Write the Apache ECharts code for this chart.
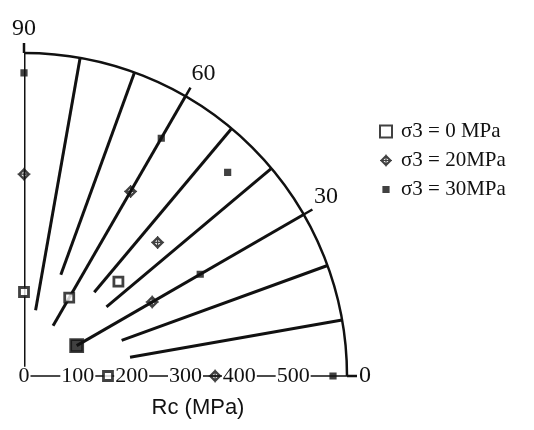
<!DOCTYPE html>
<html><head><meta charset="utf-8">
<script src="https://cdn.jsdelivr.net/npm/echarts@6/dist/echarts.min.js"></script>
<style>html,body{margin:0;padding:0;background:#fff}#c{width:534px;height:430px}</style>
</head><body><div id="c"></div>
<script>
// ---- data ----
const angles = [0, 30, 45, 60, 90];
const rc0 = [156, 113, 248, 168, 156];
const rc20 = [355, 275, 351, 396, 375];
const rc30 = [574, 378, 535, 510, 563];
const guideAngles = [10, 20, 30, 40, 50, 60, 70, 80];
const guideStart = [200, 193, 113, 200, 203, 108, 200, 124];
const guideEnd = 600;
const seriesNames = ['σ3 = 0 MPa', 'σ3 = 20MPa', 'σ3 = 30MPa'];
const radiusTicks = ['0', '100', '200', '300', '400', '500'];
const angleTicks = ['0', '30', '60', '90'];

// ---- styles ----
const ink = '#111';
const serif = 'Liberation Serif';
const hatchDiamond = 'path://M10 0 L20 10 L10 20 L0 10 Z M10 5 L5 10 L10 15 L15 10 Z M10 7.5 L12.5 10 L10 12.5 L7.5 10 Z M9 0 H11 V20 H9 Z M0 9 H20 V11 H0 Z';
const smallSquare = 'path://M0 0 L0.01 0 L0 0.01 Z M20 20 L19.99 20 L20 19.99 Z M4 4 H16 V16 H4 Z';

const chart = echarts.init(document.getElementById('c'), null, {renderer: 'canvas'});

const guideSeries = guideAngles.map((a, i) => ({
  type: 'line', coordinateSystem: 'polar', silent: true, symbol: 'none',
  lineStyle: {color: ink, width: 3}, z: 1,
  data: [[guideStart[i], a], [guideEnd, a]]
}));

chart.setOption({
  animation: false,
  backgroundColor: '#fff',
  polar: {center: [24, 376], radius: 323},
  angleAxis: {
    type: 'value', min: 0, max: 90, interval: 30,
    startAngle: 0, endAngle: 90, clockwise: false,
    axisLine: {lineStyle: {color: ink, width: 2.5}},
    axisTick: {show: true, length: 10, lineStyle: {color: ink, width: 2.5}},
    axisLabel: {fontFamily: serif, fontSize: 24, color: ink, margin: 12,
      formatter: v => angleTicks[Math.round(v / 30)] ?? ''},
    splitLine: {show: false}
  },
  radiusAxis: {
    type: 'value', min: 0, max: 600, interval: 100,
    axisLine: {lineStyle: {color: ink, width: 1.5}},
    axisTick: {show: false},
    splitLine: {show: false},
    axisLabel: {fontFamily: serif, fontSize: 22, color: ink, margin: 0,
      verticalAlign: 'middle', backgroundColor: '#fff', padding: [0, 1],
      formatter: v => radiusTicks[Math.round(v / 100)] ?? ''}
  },
  legend: {
    data: seriesNames, orient: 'vertical', left: 374, top: 116, itemGap: 8,
    itemWidth: 12, itemHeight: 12,
    textStyle: {fontFamily: serif, fontSize: 21, color: ink, padding: [0, 0, 0, 4]}
  },
  graphic: [{type: 'text', x: 198, y: 408,
    style: {text: 'Rc (MPa)', font: '22px "Liberation Sans"', fill: ink, align: 'center', verticalAlign: 'middle'}}],
  series: [
    {type: 'line', coordinateSystem: 'polar', silent: true, symbol: 'none',
      lineStyle: {color: ink, width: 3}, z: 1, data: [[17, 90], [600, 90]]},
    ...guideSeries,
    {name: seriesNames[0], type: 'scatter', coordinateSystem: 'polar', symbol: 'rect', symbolSize: 9,
      itemStyle: {color: '#fff', borderColor: ink, borderWidth: 2.8}, z: 5,
      data: rc0.map((r, i) => i === 1 ? {value: [r, angles[i]], symbolSize: 12, itemStyle: {color: ink}} : [r, angles[i]])},
    {name: seriesNames[1], type: 'scatter', coordinateSystem: 'polar', symbol: hatchDiamond, symbolSize: 13,
      itemStyle: {color: ink}, z: 5,
      data: rc20.map((r, i) => [r, angles[i]])},
    {name: seriesNames[2], type: 'scatter', coordinateSystem: 'polar', symbol: smallSquare, symbolSize: 12,
      itemStyle: {color: ink}, z: 5,
      data: rc30.map((r, i) => [r, angles[i]])}
  ]
});
</script></body></html>
